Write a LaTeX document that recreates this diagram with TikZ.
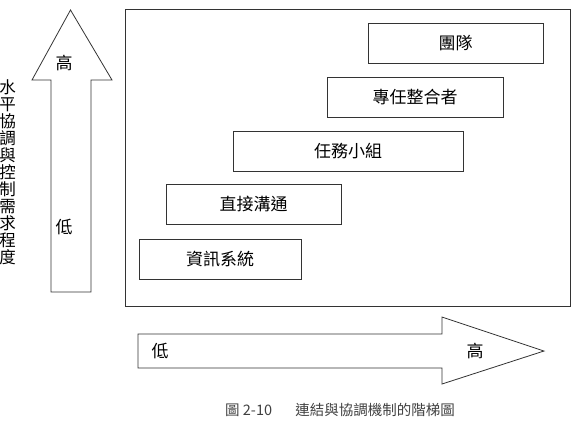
\documentclass[tikz,border=0pt]{standalone}
\usepackage{fontspec}
\setmainfont{Noto Sans CJK TC}
\usetikzlibrary{positioning}

\begin{document}
\begin{tikzpicture}[x=1pt, y=-1pt,
  line/.style={draw=black!80, line width=0.8pt},
  stepbox/.style={line, fill=white, inner sep=0pt, minimum height=40pt,
    font=\fontsize{17}{17}\selectfont},
  lbl/.style={inner sep=0pt, font=\fontsize{17}{17}\selectfont}
]
\useasboundingbox (0,0) rectangle (577,421);

% --- outer frame ---
\draw[line] (125,9) rectangle (570.5,306);

% --- steps, low to high ---
\node[stepbox, minimum width=162pt] (info)  at (220,259)   {資訊系統};
\node[stepbox, minimum width=175pt] (direct) at (253.5,204.5) {直接溝通};
\node[stepbox, minimum width=230pt] (task)  at (348,151.5) {任務小組};
\node[stepbox, minimum width=176pt] (integ) at (415,97)    {專任整合者};
\node[stepbox, minimum width=175pt] (team)  at (455.5,43)  {團隊};

% --- vertical arrow ---
\draw[line] (51,292) -- (51,80) -- (32,80) -- (70.5,10) -- (112,80)
  -- (91,80) -- (91,292) -- cycle;
\node[lbl] (vhigh) at (64,63)  {高};
\node[lbl] (vlow)  at (64,227) {低};
\node[inner sep=0pt, align=center, font=\fontsize{16.5}{17}\selectfont]
  (vtitle) at (7.5,172) {水\\平\\協\\調\\與\\控\\制\\需\\求\\程\\度};

% --- horizontal arrow ---
\draw[line] (138,334) -- (442,334) -- (442,317) -- (544,351) -- (442,384)
  -- (442,368) -- (138,368) -- cycle;
\node[lbl] (hlow)  at (160,351) {低};
\node[lbl] (hhigh) at (475,351) {高};

% --- caption ---
\node[inner sep=0pt, text=black!75, font=\fontsize{14.5}{14.5}\selectfont]
  (caption) at (340,410) {圖 2-10\hspace{1.6em}連結與協調機制的階梯圖};

\end{tikzpicture}
\end{document}
